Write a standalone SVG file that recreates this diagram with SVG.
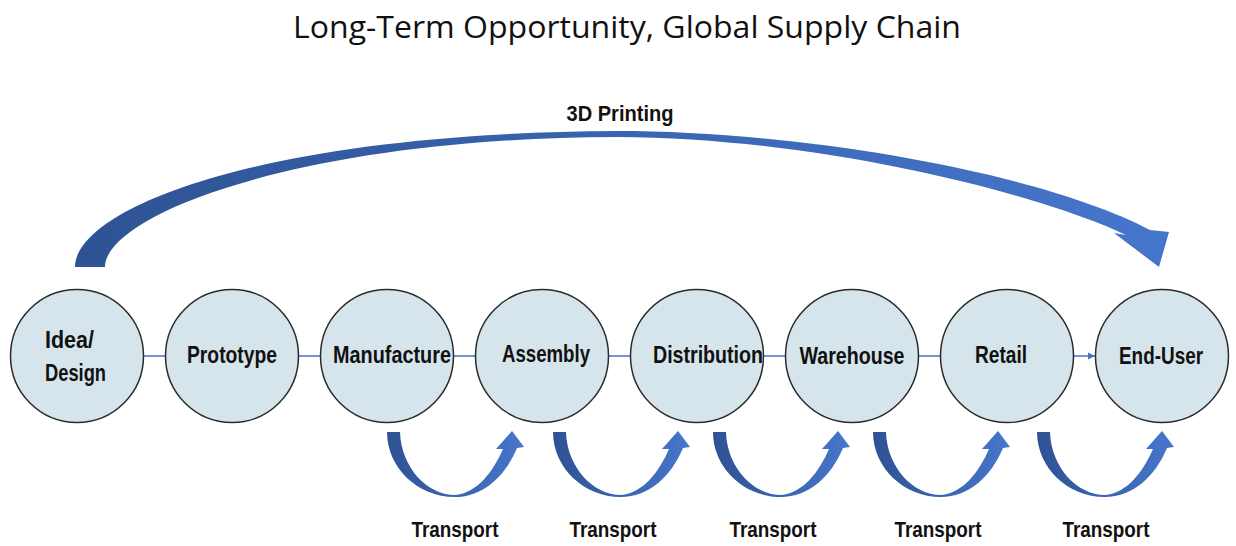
<svg xmlns="http://www.w3.org/2000/svg" width="1236" height="546" viewBox="0 0 1236 546">
  <defs>
    <linearGradient id="blueArrow" x1="0" y1="0" x2="1" y2="0">
      <stop offset="0" stop-color="#2e5394"/>
      <stop offset="1" stop-color="#4676cc"/>
    </linearGradient>
    <marker id="tip" markerWidth="8" markerHeight="8" refX="7" refY="4" orient="auto" markerUnits="userSpaceOnUse">
      <path d="M0,0.5 L7,4 L0,7.5 Z" fill="#4472c4"/>
    </marker>
    <!-- U-shaped transport arrow, drawn from its top-left corner -->
    <path id="uArrow" d="M0,0 C0,35 30,65 68,65 C95,65 118,45 130,16 L137,15 L125,-1 L109,17 L116,17 C106,40 90,61 68,63 C40,63 14,35 13,0 Z"/>
  </defs>
  <style>
    .node circle { fill: #d5e5eb; stroke: #2b2b2b; stroke-width: 1.5; }
    .lbl { font-family: "Liberation Sans", Arial, sans-serif; font-weight: bold; font-size: 24px; fill: #111; }
    .mid { text-anchor: middle; }
    .link { stroke: #4472c4; stroke-width: 1.5; fill: none; }
    .flow { fill: url(#blueArrow); }
    .small { font-family: "Liberation Sans", Arial, sans-serif; font-weight: bold; font-size: 22px; fill: #111; text-anchor: middle; }
  </style>

  <rect width="1236" height="546" fill="#ffffff"/>

  <text x="627" y="38" font-family="'Open Sans', 'Liberation Sans', sans-serif" font-size="31" fill="#111" text-anchor="middle" textLength="668" lengthAdjust="spacingAndGlyphs">Long-Term Opportunity, Global Supply Chain</text>

  <!-- 3D printing shortcut arc -->
  <g id="printing-arc">
    <path class="flow" d="M75,267 C75,210 255,133 617,131 C800,131 1040,172 1150,230 L1169,232 L1159,267 L1114,233 L1126,235 C1055,200 835,138 617,137 C300,138 105,215 105,267 Z"/>
    <text x="620" y="121" class="small" font-size="21" textLength="107" lengthAdjust="spacingAndGlyphs">3D Printing</text>
  </g>

  <!-- connectors between stages -->
  <g id="connectors">
    <line class="link" x1="143" y1="356" x2="166" y2="356"/>
    <line class="link" x1="298" y1="356" x2="321" y2="356"/>
    <line class="link" x1="453" y1="356" x2="476" y2="356"/>
    <line class="link" x1="608" y1="356" x2="631" y2="356"/>
    <line class="link" x1="763" y1="356" x2="786" y2="356"/>
    <line class="link" x1="918" y1="356" x2="941" y2="356"/>
    <line class="link" x1="1073" y1="356" x2="1095" y2="356" marker-end="url(#tip)"/>
  </g>

  <g id="idea-design" class="node">
    <circle cx="77" cy="356" r="66.5"/>
    <text class="lbl" x="45" y="348" textLength="49" lengthAdjust="spacingAndGlyphs">Idea/</text>
    <text class="lbl" x="45" y="381" textLength="61" lengthAdjust="spacingAndGlyphs">Design</text>
  </g>
  <g id="prototype" class="node">
    <circle cx="232" cy="356" r="66.5"/>
    <text class="lbl mid" x="232" y="363" textLength="90" lengthAdjust="spacingAndGlyphs">Prototype</text>
  </g>
  <g id="manufacture" class="node">
    <circle cx="387" cy="356" r="66.5"/>
    <text class="lbl mid" x="392" y="363" textLength="118" lengthAdjust="spacingAndGlyphs">Manufacture</text>
  </g>
  <g id="assembly" class="node">
    <circle cx="542" cy="356" r="66.5"/>
    <text class="lbl mid" x="546" y="362" textLength="88" lengthAdjust="spacingAndGlyphs">Assembly</text>
  </g>
  <g id="distribution" class="node">
    <circle cx="697" cy="356" r="66.5"/>
    <text class="lbl mid" x="708" y="363" textLength="110" lengthAdjust="spacingAndGlyphs">Distribution</text>
  </g>
  <g id="warehouse" class="node">
    <circle cx="852" cy="356" r="66.5"/>
    <text class="lbl mid" x="852" y="364" textLength="105" lengthAdjust="spacingAndGlyphs">Warehouse</text>
  </g>
  <g id="retail" class="node">
    <circle cx="1007" cy="356" r="66.5"/>
    <text class="lbl mid" x="1001" y="363" textLength="52" lengthAdjust="spacingAndGlyphs">Retail</text>
  </g>
  <g id="end-user" class="node">
    <circle cx="1162" cy="356" r="66.5"/>
    <text class="lbl mid" x="1161" y="364" textLength="84" lengthAdjust="spacingAndGlyphs">End-User</text>
  </g>

  <!-- transport hops -->
  <g id="transport-1">
    <use href="#uArrow" class="flow" x="387" y="432"/>
    <text class="small" x="455" y="537" textLength="87" lengthAdjust="spacingAndGlyphs">Transport</text>
  </g>
  <g id="transport-2">
    <use href="#uArrow" class="flow" x="553" y="432"/>
    <text class="small" x="613" y="537" textLength="87" lengthAdjust="spacingAndGlyphs">Transport</text>
  </g>
  <g id="transport-3">
    <use href="#uArrow" class="flow" x="713" y="432"/>
    <text class="small" x="773" y="537" textLength="87" lengthAdjust="spacingAndGlyphs">Transport</text>
  </g>
  <g id="transport-4">
    <use href="#uArrow" class="flow" x="873" y="432"/>
    <text class="small" x="938" y="537" textLength="87" lengthAdjust="spacingAndGlyphs">Transport</text>
  </g>
  <g id="transport-5">
    <use href="#uArrow" class="flow" x="1037" y="432"/>
    <text class="small" x="1106" y="537" textLength="87" lengthAdjust="spacingAndGlyphs">Transport</text>
  </g>
</svg>
